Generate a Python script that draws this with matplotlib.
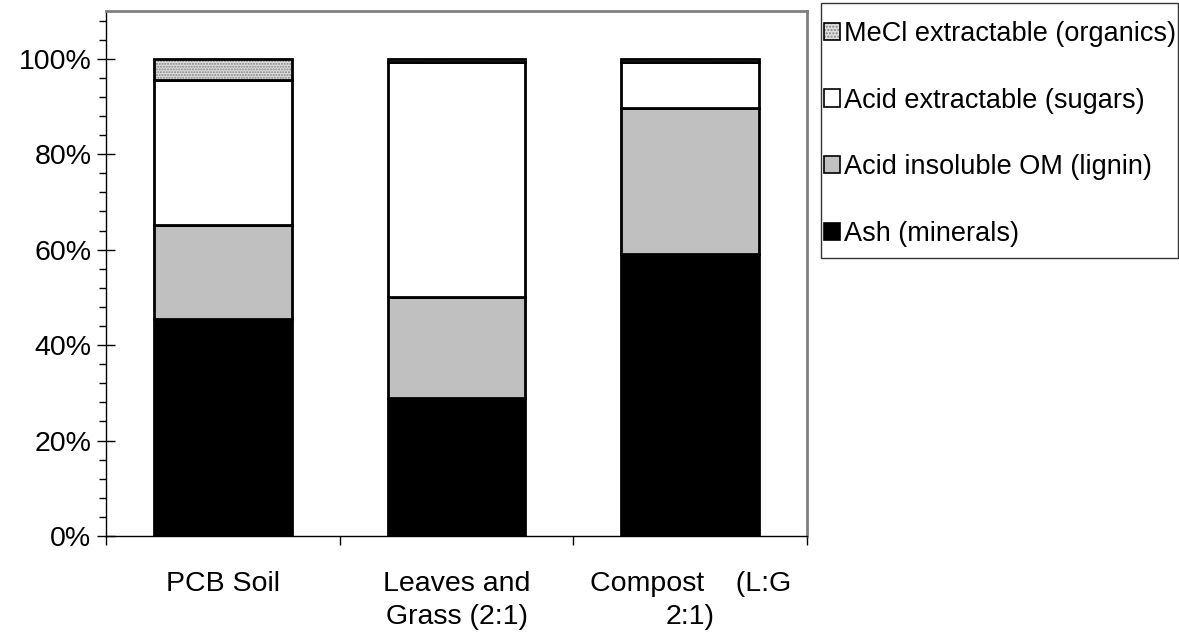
import matplotlib
matplotlib.use("Agg")
import matplotlib.pyplot as plt
from matplotlib.patches import Patch, Rectangle
from matplotlib.legend_handler import HandlerTuple
from matplotlib.ticker import MultipleLocator, PercentFormatter
import numpy as np

plt.rcParams["font.family"] = ["Liberation Sans", "DejaVu Sans"]

# ---- data (fractions of total) ----
categories = ["PCB Soil", "Leaves and\nGrass (2:1)", "Compost    (L:G\n2:1)"]
ash = [0.455, 0.290, 0.590]
lignin = [0.197, 0.210, 0.307]
sugars = [0.304, 0.493, 0.096]
mecl = [0.044, 0.007, 0.007]

series_labels = ["Ash (minerals)", "Acid insoluble OM (lignin)",
                 "Acid extractable (sugars)", "MeCl extractable (organics)"]

W, H = 1179, 636
fig = plt.figure(figsize=(W / 100, H / 100), dpi=100)
ax = fig.add_axes([106 / W, (H - 536) / H, 701 / W, (536 - 11) / H])

x = np.arange(len(categories))
bw = 0.59
EDGE = 2.0

ax.bar(x, ash, bw, color="black", edgecolor="black", lw=EDGE)
bottom = np.array(ash)
ax.bar(x, lignin, bw, bottom=bottom, color="#c0c0c0", edgecolor="black", lw=EDGE)
bottom = bottom + np.array(lignin)
ax.bar(x, sugars, bw, bottom=bottom, color="white", edgecolor="black", lw=EDGE)
bottom = bottom + np.array(sugars)
# MeCl: dotted fill drawn in grey, then a plain black outline on top
ax.bar(x, mecl, bw, bottom=bottom, color="#e0e0e0", edgecolor="#808080",
       hatch="......", lw=0)
ax.bar(x, mecl, bw, bottom=bottom, fill=False, edgecolor="black", lw=EDGE)

ax.set_xlim(-0.5, 2.5)
ax.set_ylim(0, 1.1)
ax.yaxis.set_minor_locator(MultipleLocator(0.04))
ax.yaxis.set_major_formatter(PercentFormatter(1.0, decimals=0))
ax.set_yticks([0, 0.2, 0.4, 0.6, 0.8, 1.0])
ax.tick_params(axis="y", which="major", direction="inout", length=13, width=1,
               labelsize=20.5, pad=4)
ax.tick_params(axis="y", which="minor", direction="out", length=5, width=1)

ax.set_xticks([-0.5, 0.5, 1.5, 2.5])
ax.set_xticklabels([])
ax.tick_params(axis="x", which="major", direction="out", length=6.5, width=1)
for xi, lab in zip(x, categories):
    ax.text(xi, -0.066, lab, ha="center", va="top", fontsize=20.5,
            transform=ax.get_xaxis_transform(), linespacing=1.38)

for s in ["top", "right"]:
    ax.spines[s].set_color("#808080")
    ax.spines[s].set_linewidth(2)
ax.spines["left"].set_linewidth(1)
ax.spines["bottom"].set_linewidth(1)

# legend box drawn separately so the padding can be tight left/right
fig.patches.append(Rectangle((821 / W, 1 - 258 / H), 357 / W, 255 / H,
                             transform=fig.transFigure, facecolor="white",
                             edgecolor="#333333", lw=1, zorder=0))

mecl_handle = (Patch(facecolor="#e0e0e0", edgecolor="#808080", hatch=".....", lw=0),
               Patch(fill=False, edgecolor="black", lw=1.2))
handles = [mecl_handle,
           Patch(facecolor="white", edgecolor="black", lw=1.2),
           Patch(facecolor="#c0c0c0", edgecolor="black", lw=1.2),
           Patch(facecolor="black", edgecolor="black", lw=1.2)]
labels = series_labels[::-1]
leg = fig.legend(handles, labels, loc="upper left",
                 bbox_to_anchor=(824 / W, 1 - 21 / H),
                 handler_map={tuple: HandlerTuple(ndivide=1, pad=0)},
                 fontsize=19.5, frameon=False,
                 handlelength=0.6, handleheight=0.6, handletextpad=0.15,
                 labelspacing=1.5, borderpad=0, borderaxespad=0)

fig.savefig("out.png", dpi=100)
